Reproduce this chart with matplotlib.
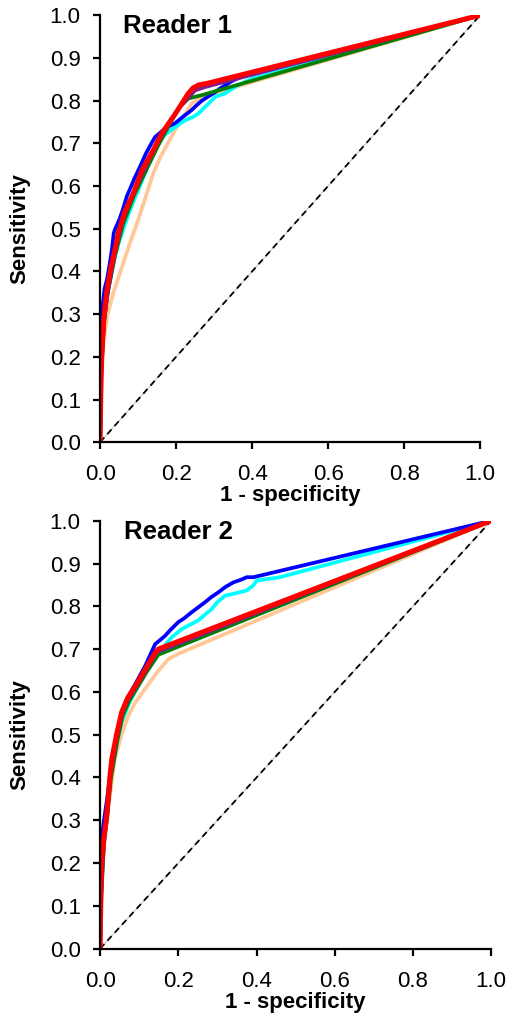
import matplotlib
matplotlib.use('Agg')
import matplotlib.pyplot as plt

plt.rcParams['font.family'] = ['Liberation Sans', 'DejaVu Sans']

# colours of the six ROC curves
colors = {'peach': '#FFC896', 'cyan': '#00FFFF', 'blue': '#0000FF',
          'green': '#008000', 'purple': '#7F1F8F', 'red': '#FF0000'}

# ---- Reader 1 ----
r1_blue_x = [0, 0, 0.004, 0.008, 0.012, 0.018, 0.024, 0.031, 0.036, 0.04, 0.05, 0.06, 0.07, 0.082, 0.092,
             0.105, 0.12, 0.135, 0.145, 0.165, 0.185, 0.197, 0.215, 0.241, 0.255, 0.268, 0.285, 0.303,
             0.315, 0.329, 0.345, 0.368, 1.0]
r1_blue_y = [0, 0.25, 0.29, 0.33, 0.36, 0.38, 0.41, 0.45, 0.49, 0.50, 0.52, 0.545, 0.575, 0.60, 0.621,
             0.645, 0.675, 0.70, 0.715, 0.73, 0.742, 0.747, 0.76, 0.778, 0.79, 0.80, 0.81, 0.82,
             0.828, 0.836, 0.845, 0.855, 1.0]
r1_cyan_x = [0, 0, 0.008, 0.02, 0.035, 0.05, 0.075, 0.1, 0.125, 0.145, 0.17, 0.197, 0.224, 0.245,
             0.259, 0.276, 0.29, 0.303, 0.329, 0.36, 0.40, 1.0]
r1_cyan_y = [0, 0.18, 0.27, 0.35, 0.42, 0.47, 0.535, 0.59, 0.645, 0.692, 0.72, 0.738, 0.754, 0.762,
             0.77, 0.785, 0.797, 0.809, 0.817, 0.835, 0.852, 1.0]
r1_peach_x = [0, 0.004, 0.01, 0.02, 0.035, 0.05, 0.065, 0.08, 0.1, 0.12, 0.14, 0.16, 0.197, 0.241,
              0.268, 1.0]
r1_peach_y = [0, 0.15, 0.24, 0.30, 0.35, 0.39, 0.43, 0.47, 0.52, 0.575, 0.63, 0.67, 0.731, 0.793,
              0.809, 1.0]
r1_green_x = [0, 0.002, 0.01, 0.02, 0.04, 0.06, 0.09, 0.12, 0.15, 0.18, 0.206, 0.232, 0.268, 1.0]
r1_green_y = [0, 0.15, 0.28, 0.35, 0.44, 0.51, 0.58, 0.635, 0.69, 0.74, 0.782, 0.805, 0.813, 1.0]
r1_purple_x = [0, 0.002, 0.01, 0.02, 0.04, 0.06, 0.09, 0.12, 0.15, 0.18, 0.21, 0.25, 0.276, 1.0]
r1_purple_y = [0, 0.14, 0.28, 0.35, 0.45, 0.52, 0.59, 0.645, 0.70, 0.745, 0.785, 0.824, 0.832, 1.0]
r1_red_x = [0, 0.002, 0.004, 0.01, 0.018, 0.03, 0.039, 0.048, 0.065, 0.088, 0.11, 0.14, 0.162, 0.2,
            0.232, 0.245, 0.26, 0.284, 1.0]
r1_red_y = [0, 0.12, 0.2, 0.29, 0.356, 0.415, 0.45, 0.49, 0.54, 0.583, 0.637, 0.684, 0.723, 0.772,
            0.817, 0.83, 0.837, 0.841, 1.0]

# ---- Reader 2 ----
r2_blue_x = [0, 0, 0.004, 0.01, 0.018, 0.026, 0.035, 0.045, 0.055, 0.07, 0.085, 0.1, 0.115, 0.13,
             0.141, 0.152, 0.166, 0.18, 0.2, 0.215, 0.234, 0.25, 0.269, 0.285, 0.303, 0.32, 0.341,
             0.36, 0.375, 0.392, 1.0]
r2_blue_y = [0, 0.22, 0.26, 0.30, 0.35, 0.41, 0.46, 0.51, 0.55, 0.585, 0.61, 0.635, 0.66, 0.69,
             0.712, 0.72, 0.731, 0.745, 0.763, 0.772, 0.786, 0.797, 0.81, 0.822, 0.833, 0.845, 0.856,
             0.862, 0.868, 0.868, 1.0]
r2_cyan_x = [0, 0.002, 0.008, 0.016, 0.026, 0.04, 0.055, 0.075, 0.1, 0.13, 0.158, 0.18, 0.209, 0.23,
             0.251, 0.27, 0.286, 0.3, 0.32, 0.345, 0.375, 0.392, 0.40, 0.43, 0.46, 1.0]
r2_cyan_y = [0, 0.15, 0.25, 0.32, 0.40, 0.47, 0.53, 0.575, 0.62, 0.665, 0.70, 0.725, 0.747, 0.757,
             0.767, 0.782, 0.794, 0.81, 0.825, 0.83, 0.837, 0.849, 0.86, 0.864, 0.868, 1.0]
r2_peach_x = [0, 0.004, 0.01, 0.02, 0.03, 0.038, 0.055, 0.072, 0.09, 0.115, 0.145, 0.175, 0.2, 1.0]
r2_peach_y = [0, 0.15, 0.24, 0.32, 0.39, 0.443, 0.5, 0.544, 0.575, 0.607, 0.645, 0.677, 0.689, 1.0]
r2_green_x = [0, 0.003, 0.01, 0.018, 0.028, 0.045, 0.058, 0.075, 0.095, 0.12, 0.149, 1.0]
r2_green_y = [0, 0.12, 0.25, 0.31, 0.40, 0.49, 0.545, 0.58, 0.61, 0.648, 0.687, 1.0]
r2_purple_x = [0, 0.002, 0.01, 0.018, 0.027, 0.043, 0.056, 0.072, 0.092, 0.117, 0.145, 1.0]
r2_purple_y = [0, 0.12, 0.25, 0.31, 0.41, 0.495, 0.55, 0.583, 0.612, 0.65, 0.693, 1.0]
r2_red_x = [0, 0.002, 0.004, 0.01, 0.017, 0.026, 0.03, 0.042, 0.055, 0.07, 0.09, 0.115, 0.141,
            0.149, 1.0]
r2_red_y = [0, 0.12, 0.2, 0.26, 0.31, 0.41, 0.443, 0.5, 0.552, 0.585, 0.614, 0.652, 0.692, 0.70, 1.0]

titles = ['Reader 1', 'Reader 2']
y_ticks = [i / 10 for i in range(11)]
x_ticks = [0.0, 0.2, 0.4, 0.6, 0.8, 1.0]

panels = [
    {'peach': (r1_peach_x, r1_peach_y), 'cyan': (r1_cyan_x, r1_cyan_y), 'blue': (r1_blue_x, r1_blue_y),
     'green': (r1_green_x, r1_green_y), 'purple': (r1_purple_x, r1_purple_y), 'red': (r1_red_x, r1_red_y)},
    {'peach': (r2_peach_x, r2_peach_y), 'cyan': (r2_cyan_x, r2_cyan_y), 'blue': (r2_blue_x, r2_blue_y),
     'green': (r2_green_x, r2_green_y), 'purple': (r2_purple_x, r2_purple_y), 'red': (r2_red_x, r2_red_y)},
]

fig = plt.figure(figsize=(5.08, 10.19), dpi=100)
# axes rectangles in figure fractions
rects = [[0.197, 0.566, 0.748, 0.419], [0.197, 0.069, 0.770, 0.420]]

for k in range(2):
    ax = fig.add_axes(rects[k])
    # chance diagonal
    ax.plot([0, 1], [0, 1], color='#c8c8c8', lw=0.8, zorder=1)
    ax.plot([0, 1], [0, 1], color='black', lw=1.3, ls=(0, (3.5, 2.5)), zorder=2)
    for name in ['peach', 'cyan', 'blue', 'green', 'purple', 'red']:
        xs, ys = panels[k][name]
        lw = 3.6 if name == 'red' else 2.7
        ax.plot(xs, ys, color=colors[name], lw=lw, solid_joinstyle='round',
                solid_capstyle='round', zorder=3)
    ax.set_xlim(0, 1.0)
    ax.set_ylim(0, 1.0)
    ax.set_xticks(x_ticks)
    ax.set_yticks(y_ticks)
    ax.set_xticklabels(['%.1f' % v for v in x_ticks])
    ax.set_yticklabels(['%.1f' % v for v in y_ticks])
    ax.spines['top'].set_visible(False)
    ax.spines['right'].set_visible(False)
    ax.spines['left'].set_linewidth(1.6)
    ax.spines['bottom'].set_linewidth(1.6)
    ax.tick_params(direction='out', length=5, width=1.6, labelsize=16)
    ax.tick_params(axis='x', pad=11)
    ax.tick_params(axis='y', pad=9)
    ax.set_xlabel('1 - specificity', fontsize=16, fontweight='bold', labelpad=0)
    ax.set_ylabel('Sensitivity', fontsize=16, fontweight='bold', labelpad=14)
    ax.text(0.06, 0.958, titles[k], transform=ax.transAxes, fontsize=18.5,
            fontweight='bold', ha='left', va='baseline')
    for sp in ax.spines.values():
        sp.set_zorder(5)
        sp.set_clip_on(False)

fig.savefig('out.png', dpi=100)
